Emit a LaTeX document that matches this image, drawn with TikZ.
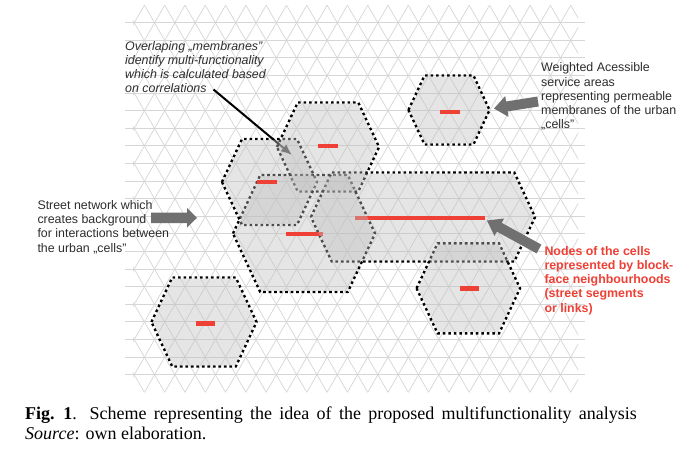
\documentclass[tikz,border=0pt]{standalone}
\usepackage{fontspec}
\newfontfamily\arialf{Liberation Sans}
\newfontfamily\serf{Liberation Serif}
\usetikzlibrary{arrows.meta}
\definecolor{redbar}{RGB}{238,64,53}
\definecolor{txtgray}{RGB}{45,45,45}
\definecolor{arrgray}{RGB}{112,112,112}
\definecolor{gridc}{RGB}{214,214,214}
\begin{document}
\begin{tikzpicture}[x=1pt,y=-1pt,
  hexa/.style n args={4}{insert path={({#1-#3},{#2}) -- ({#1-#3+0.466*#4},{#2-#4}) -- ({#1+#3-0.466*#4},{#2-#4}) -- ({#1+#3},{#2}) -- ({#1+#3-0.466*#4},{#2+#4}) -- ({#1-#3+0.466*#4},{#2+#4}) -- cycle}},
  hexborder/.style={draw=black, line width=2.4pt, dash pattern=on 2.6pt off 2.9pt},
  hexfill/.style={fill=black!25, fill opacity=0.4},
  gridh/.style={draw=gridc, line width=0.9pt},
  gridd/.style={draw=gridc, line width=0.7pt},
  annot/.style={anchor=north west, inner sep=0pt, align=left, text=txtgray, font=\arialf\fontsize{12.4}{14.2}\selectfont},
  redtxt/.style={anchor=north west, inner sep=0pt, align=left, text=redbar, font=\arialf\bfseries\fontsize{12.4}{14.2}\selectfont},
  captxt/.style={anchor=base west, inner sep=0pt, font=\serf\fontsize{18}{20}\selectfont},
  dashbar/.style={fill=redbar},
  blockarrow/.style={fill=arrgray}
]
\useasboundingbox (0,0) rectangle (687,461);
\fill[white] (0,0) rectangle (687,461);

% background street network (triangular grid)
\begin{scope}
  \clip (133,5.1) rectangle (578,392.3);
  \foreach \j in {-23,...,18} {
    \pgfmathsetmacro\xj{408.3+20.3*\j}
    \draw[gridd] (\xj+60.96,5.1) -- (\xj-162.4,392.3);
    \draw[gridd] (\xj-60.96,5.1) -- (\xj+162.4,392.3);
  }
\end{scope}
\foreach \k in {0,...,20} \draw[gridh] (125,{22.7+17.6*\k}) -- (585,{22.7+17.6*\k});

% black pointer arrow
\coordinate (aS) at (213.5,89.5);
\coordinate (aT) at (292,155);
\draw[line width=2pt, -{Latex[length=11pt,width=9pt]}] (aS) -- (aT);

% hexagon borders
\path[hexborder] [hexa={449}{110}{40.5}{34.5}];
\path[hexborder] [hexa={328}{147}{51}{44.5}];
\path[hexborder] [hexa={269.5}{182}{47.5}{43}];
\path[hexborder] [hexa={304}{233.5}{71}{58.5}];
\path[hexborder] [hexa={423}{217}{112}{44.5}];
\path[hexborder] [hexa={204}{322}{52.5}{44.5}];
\path[hexborder] [hexa={468.3}{288.3}{51.7}{45}];

% hexagon fills (semi-transparent)
\path[hexfill] [hexa={449}{110}{39.2}{33.3}];
\path[hexfill] [hexa={328}{147}{49.7}{43.3}];
\path[hexfill] [hexa={269.5}{182}{46.2}{41.8}];
\path[hexfill] [hexa={304}{233.5}{69.7}{57.3}];
\path[hexfill] [hexa={423}{217}{110.7}{43.3}];
\path[hexfill] [hexa={204}{322}{51.2}{43.3}];
\path[hexfill] [hexa={468.3}{288.3}{50.4}{43.8}];

% red nodes
\fill[dashbar] (440,109.5) rectangle (460,113.5);
\fill[dashbar] (318.3,144.2) rectangle (338.3,148.2);
\fill[dashbar] (256.7,180.2) rectangle (276.7,184.2);
\fill[dashbar] (286,232.3) rectangle (323.3,236.3);
\fill[dashbar] (355,216) rectangle (485,220);
\fill[dashbar] (195.7,321.3) rectangle (215,325.5);
\fill[dashbar] (460,286.3) rectangle (479.3,290.5);
% parts of red nodes lying under a neighbouring membrane
\begin{scope}
  \clip[hexa={304}{233.5}{71}{58.5}];
  \path[hexfill] (355,216) rectangle (485,220);
\end{scope}
\begin{scope}
  \clip[hexa={423}{217}{112}{44.5}];
  \path[hexfill] (286,232.3) rectangle (323.3,236.3);
\end{scope}

% grey block arrows
\fill[blockarrow] (151,212.5) -- (187,212.5) -- (187,208) -- (197,217.8) -- (187,227.5) -- (187,223) -- (151,223) -- cycle;
\fill[blockarrow] (494,108.5) -- (508.49,116.83) -- (507.63,111.40) -- (538.79,106.44) -- (537.21,96.56) -- (506.05,101.52) -- (505.19,96.09) -- cycle;
\fill[blockarrow] (487,220.5) -- (504.09,218.46) -- (501.68,222.85) -- (541.40,244.62) -- (536.60,253.38) -- (496.88,231.61) -- (494.47,236.0) -- cycle;

% texts
\node[annot, font=\arialf\itshape\fontsize{12.4}{14.2}\selectfont] (overl) at (125,41.1)
  {Overlaping „membranes”\\identify multi-functionality\\which is calculated based\\on correlations};
\node[annot] (weighted) at (541,62.8)
  {Weighted Acessible\\service areas\\representing permeable\\membranes of the urban\\„cells”};
\node[annot] (street) at (37.3,200.4)
  {Street network which\\creates background\\for interactions between\\the urban „cells”};
\node[redtxt] (nodes) at (544.3,246.1)
  {Nodes of the cells\\represented by block-\\face neighbourhoods\\(street segments\\or links)};

% caption
\node[captxt] (cap1) at (25,419) {\spaceskip=7.3pt plus 1pt\textbf{Fig. 1}.\hspace{0.7em}Scheme representing the idea of the proposed multifunctionality analysis};
\node[captxt] (cap2) at (25,439) {\textit{Source}: own elaboration.};
\end{tikzpicture}
\end{document}
